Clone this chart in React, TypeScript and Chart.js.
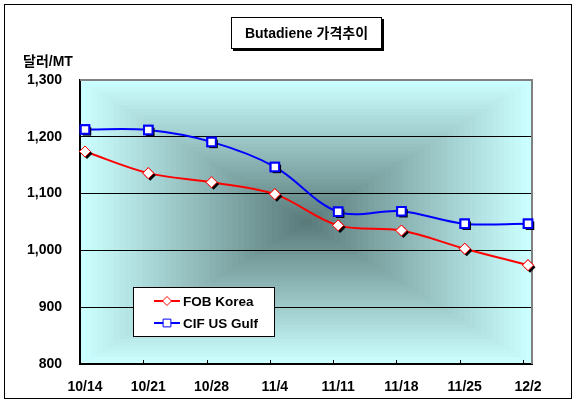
import { useEffect, useRef } from 'react';
import { Chart, registerables } from 'chart.js';

Chart.register(...registerables);

const categories = ['10/14', '10/21', '10/28', '11/4', '11/11', '11/18', '11/25', '12/2'];
const fobKorea = [1174, 1136, 1120, 1099, 1044, 1035, 1003, 974];
const cifUsGulf = [1213, 1212, 1191, 1147, 1068, 1069, 1047, 1047];
const seriesNames = ['FOB Korea', 'CIF US Gulf'];
const yMin = 800;
const yMax = 1300;
const yStep = 100;
const titleText = 'Butadiene 가격추이';
const yAxisTitle = '달러/MT';

const FONT = "'Liberation Sans', Arial, 'Noto Sans CJK KR', sans-serif";
const X_MIN = -0.079;
const X_MAX = 7.063;

const CENTER = [88, 120, 120];
const EDGE = [204, 255, 255];

function drawMarker(ctx: CanvasRenderingContext2D, style: string, x: number, y: number, r: number) {
  ctx.beginPath();
  if (style === 'rect') {
    const s = r * Math.SQRT1_2;
    ctx.rect(x - s, y - s, 2 * s, 2 * s);
  } else {
    ctx.moveTo(x - r, y);
    ctx.lineTo(x, y - r);
    ctx.lineTo(x + r, y);
    ctx.lineTo(x, y + r);
    ctx.closePath();
  }
}

const decorPlugin = {
  id: 'decor',
  beforeDraw(chart: any) {
    const { ctx, chartArea: a, width, height } = chart;
    ctx.save();
    ctx.fillStyle = '#ffffff';
    ctx.fillRect(0, 0, width, height);
    ctx.strokeStyle = '#000';
    ctx.lineWidth = 1;
    ctx.strokeRect(4.5, 4.5, 567, 394);

    // rectangular "from center" gradient
    const cx = (a.left + a.right) / 2;
    const cy = (a.top + a.bottom) / 2;
    const hw = (a.right - a.left) / 2;
    const hh = (a.bottom - a.top) / 2;
    const N = 40;
    for (let i = N; i >= 1; i--) {
      const t = i / N;
      const c = CENTER.map((v, k) => Math.round(v + (EDGE[k] - v) * t));
      ctx.fillStyle = `rgb(${c[0]},${c[1]},${c[2]})`;
      ctx.fillRect(cx - hw * t, cy - hh * t, 2 * hw * t, 2 * hh * t);
    }

    // title box
    const bx = 231, by = 17, bw = 151, bh = 32;
    ctx.fillStyle = '#000';
    ctx.fillRect(bx + 2, by + 2, bw, bh);
    ctx.fillStyle = '#fff';
    ctx.fillRect(bx, by, bw, bh);
    ctx.strokeStyle = '#000';
    ctx.lineWidth = 1;
    ctx.strokeRect(bx + 0.5, by + 0.5, bw - 1, bh - 1);
    ctx.fillStyle = '#000';
    ctx.font = `bold 14px ${FONT}`;
    ctx.textAlign = 'center';
    ctx.textBaseline = 'middle';
    ctx.fillText(titleText, bx + bw / 2, by + bh / 2 + 1);

    // y axis title
    ctx.textAlign = 'left';
    ctx.fillText(yAxisTitle, 23, 62);
    ctx.restore();
  },
  beforeDatasetsDraw(chart: any) {
    const { ctx, chartArea: a } = chart;
    ctx.save();
    ctx.strokeStyle = '#808080';
    ctx.lineWidth = 2;
    ctx.beginPath();
    ctx.moveTo(a.left, a.top);
    ctx.lineTo(a.right, a.top);
    ctx.lineTo(a.right, a.bottom);
    ctx.stroke();
    // inward x tick marks
    const xs = chart.scales.x;
    ctx.strokeStyle = '#000';
    ctx.lineWidth = 1;
    ctx.beginPath();
    for (let i = 1; i < categories.length; i++) {
      const px = Math.round(xs.getPixelForValue(i + X_MIN)) + 0.5;
      ctx.moveTo(px, a.bottom);
      ctx.lineTo(px, a.bottom - 4);
    }
    ctx.stroke();
    ctx.restore();
  },
  afterDatasetsDraw(chart: any) {
    const ctx = chart.ctx;
    chart.data.datasets.forEach((_ds: any, di: number) => {
      const meta = chart.getDatasetMeta(di);
      meta.data.forEach((pt: any) => {
        const o = pt.options;
        ctx.save();
        ctx.fillStyle = '#000';
        drawMarker(ctx, o.pointStyle, pt.x + 2, pt.y + 2, o.radius);
        ctx.fill();
        ctx.restore();
        pt.draw(ctx);
      });
    });
  },
  afterDraw(chart: any) {
    const ctx = chart.ctx;
    ctx.save();
    const lx = 133, ly = 287, lw = 142, lh = 50;
    ctx.fillStyle = '#fff';
    ctx.fillRect(lx, ly, lw, lh);
    ctx.strokeStyle = '#000';
    ctx.lineWidth = 1;
    ctx.strokeRect(lx + 0.5, ly + 0.5, lw - 1, lh - 1);
    const rows = [301, 323];
    chart.data.datasets.forEach((ds: any, i: number) => {
      const y = rows[i];
      ctx.strokeStyle = ds.borderColor;
      ctx.lineWidth = 2;
      ctx.beginPath();
      ctx.moveTo(154, y);
      ctx.lineTo(180, y);
      ctx.stroke();
      ctx.fillStyle = '#fff';
      ctx.lineWidth = 1;
      drawMarker(ctx, ds.pointStyle, 167, y, ds.pointStyle === 'rect' ? 5.5 : 4.5);
      ctx.fill();
      ctx.stroke();
      ctx.fillStyle = '#000';
      ctx.font = `bold 13.5px ${FONT}`;
      ctx.textAlign = 'left';
      ctx.textBaseline = 'middle';
      ctx.fillText(ds.label, 183, y + 1);
    });
    ctx.restore();
  },
};

export default function App() {
  const ref = useRef<HTMLCanvasElement | null>(null);
  useEffect(() => {
    document.body.style.margin = '0';
    const canvas = ref.current!;
    const chart = new Chart(canvas, {
      type: 'line',
      data: {
        datasets: [
          {
            label: seriesNames[0],
            data: fobKorea.map((v, i) => ({ x: i, y: v })),
            borderColor: '#ff0000',
            borderWidth: 2,
            backgroundColor: '#ffffff',
            pointStyle: 'rectRot',
            pointRadius: 5.5,
            pointBorderWidth: 1,
            pointBorderColor: '#ff0000',
            pointBackgroundColor: '#ffffff',
            tension: 0.35,
            clip: false,
          },
          {
            label: seriesNames[1],
            data: cifUsGulf.map((v, i) => ({ x: i, y: v })),
            borderColor: '#0000ff',
            borderWidth: 2,
            backgroundColor: '#ffffff',
            pointStyle: 'rect',
            pointRadius: 6,
            pointBorderWidth: 2,
            pointBorderColor: '#0000ff',
            pointBackgroundColor: '#ffffff',
            tension: 0.35,
            clip: false,
          },
        ],
      },
      options: {
        responsive: false,
        animation: false,
        layout: { padding: { left: 0, top: 80, right: 48, bottom: 0 } },
        plugins: { legend: { display: false }, tooltip: { enabled: false }, title: { display: false } },
        scales: {
          x: {
            type: 'linear',
            min: X_MIN,
            max: X_MAX,
            afterFit: (s: any) => { s.height = 43; },
            grid: { display: false, drawTicks: false },
            border: { display: true, color: '#000', width: 2 },
            ticks: {
              stepSize: 1,
              includeBounds: false,
              autoSkip: false,
              maxRotation: 0,
              padding: 15,
              color: '#000',
              font: { family: FONT, size: 14, weight: 'bold' },
              callback: (v: any) => (Number.isInteger(v) ? categories[v] : ''),
            },
          },
          y: {
            min: yMin,
            max: yMax,
            afterFit: (s: any) => { s.width = 80; },
            grid: {
              drawTicks: false,
              color: (c: any) => (c.tick && (c.tick.value === yMax || c.tick.value === yMin) ? 'rgba(0,0,0,0)' : '#000'),
              lineWidth: 1,
            },
            border: { display: true, color: '#000', width: 2 },
            ticks: {
              stepSize: yStep,
              padding: 18,
              color: '#000',
              font: { family: FONT, size: 14, weight: 'bold' },
              callback: (v: any) => Number(v).toLocaleString('en-US'),
            },
          },
        },
      },
      plugins: [decorPlugin],
    } as any);
    return () => chart.destroy();
  }, []);
  return <canvas ref={ref} width={580} height={407} style={{ display: 'block', width: 580, height: 407 }} />;
}
